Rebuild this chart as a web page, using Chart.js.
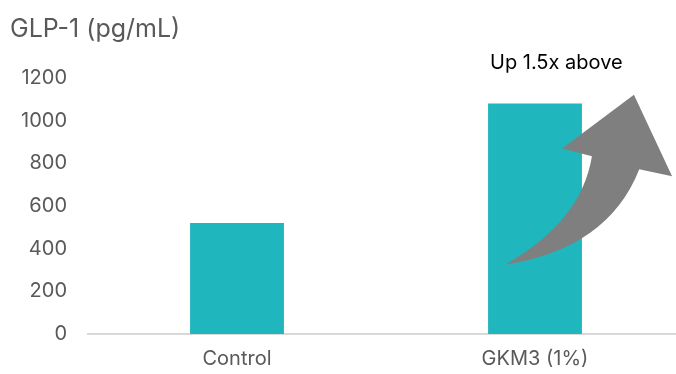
<!DOCTYPE html>
<html>
<head>
<meta charset="utf-8">
<script src="https://cdn.jsdelivr.net/npm/chart.js@4/dist/chart.umd.min.js"></script>
<style>
  html, body { margin: 0; padding: 0; background: #fff; overflow: hidden; }
  #wrap { width: 684px; height: 374px; }
</style>
</head>
<body>
<div id="wrap"><canvas id="glpChart"></canvas></div>
<script>
// chart data
const categories = ['Control', 'GKM3 (1%)'];
const glp1Values = [520, 1080];
const yMin = 0;
const yMax = 1200;
const yStep = 200;
const chartTitle = 'GLP-1 (pg/mL)';
const noteText = 'Up 1.5x above';

const barColor = '#1FB6BD';
const textGray = '#595959';

// arrow outline, in (category index, value) units so it follows the scales
const arrowShape = {
  tail: [0.90, 325],
  outerCtrl: [1.245, 400],
  outerEnd: [1.35, 772],
  rightBarb: [1.46, 740],
  tip: [1.332, 1121],
  leftBarb: [1.091, 870],
  innerStart: [1.191, 833],
  innerCtrl: [1.156, 528]
};

const arrowPlugin = {
  id: 'arrowNote',
  afterDatasetsDraw(chart) {
    const { ctx, scales: { x, y } } = chart;
    const colW = x.getPixelForValue(1) - x.getPixelForValue(0);
    const px = (p) => [x.getPixelForValue(0) + p[0] * colW, y.getPixelForValue(p[1])];
    const a = {};
    for (const k in arrowShape) a[k] = px(arrowShape[k]);

    ctx.save();
    ctx.fillStyle = '#7F7F7F';
    ctx.beginPath();
    ctx.moveTo(...a.tail);
    ctx.quadraticCurveTo(...a.outerCtrl, ...a.outerEnd);
    ctx.lineTo(...a.rightBarb);
    ctx.lineTo(...a.tip);
    ctx.lineTo(...a.leftBarb);
    ctx.lineTo(...a.innerStart);
    ctx.quadraticCurveTo(...a.innerCtrl, ...a.tail);
    ctx.closePath();
    ctx.fill();

    // note above the arrow
    const t = px([0.849, 1270]);
    ctx.fillStyle = '#000';
    ctx.font = '20px Inter';
    ctx.textAlign = 'left';
    ctx.textBaseline = 'middle';
    ctx.fillText(noteText, t[0], t[1]);
    ctx.restore();
  }
};

const chart = new Chart(document.getElementById('glpChart'), {
  type: 'bar',
  data: {
    labels: categories,
    datasets: [{
      label: 'GLP-1',
      data: glp1Values,
      backgroundColor: barColor,
      barPercentage: 0.63,
      categoryPercentage: 0.5
    }]
  },
  options: {
    responsive: true,
    maintainAspectRatio: false,
    animation: false,
    layout: {
      padding: { left: 10, right: 0, top: 10, bottom: 4 }
    },
    plugins: {
      legend: { display: false },
      tooltip: { enabled: false },
      title: {
        display: true,
        text: chartTitle,
        align: 'start',
        color: textGray,
        font: { family: 'Inter', size: 25, weight: 'normal' },
        padding: { top: 4, bottom: 34 }
      }
    },
    scales: {
      x: {
        grid: { display: false, drawTicks: false },
        border: { display: true, color: '#D9D9D9', width: 2 },
        ticks: {
          color: textGray,
          font: { family: 'Inter', size: 20 },
          padding: 13
        },
        afterFit(scale) { scale.height = 36; }
      },
      y: {
        min: yMin,
        max: yMax,
        grid: { display: false, drawTicks: false },
        border: { display: false },
        ticks: {
          stepSize: yStep,
          color: textGray,
          font: { family: 'Inter', size: 20 },
          padding: 21,
          callback: (v) => String(v)
        },
        afterFit(scale) { scale.width = 78; }
      }
    }
  },
  plugins: [arrowPlugin]
});
</script>
</body>
</html>
